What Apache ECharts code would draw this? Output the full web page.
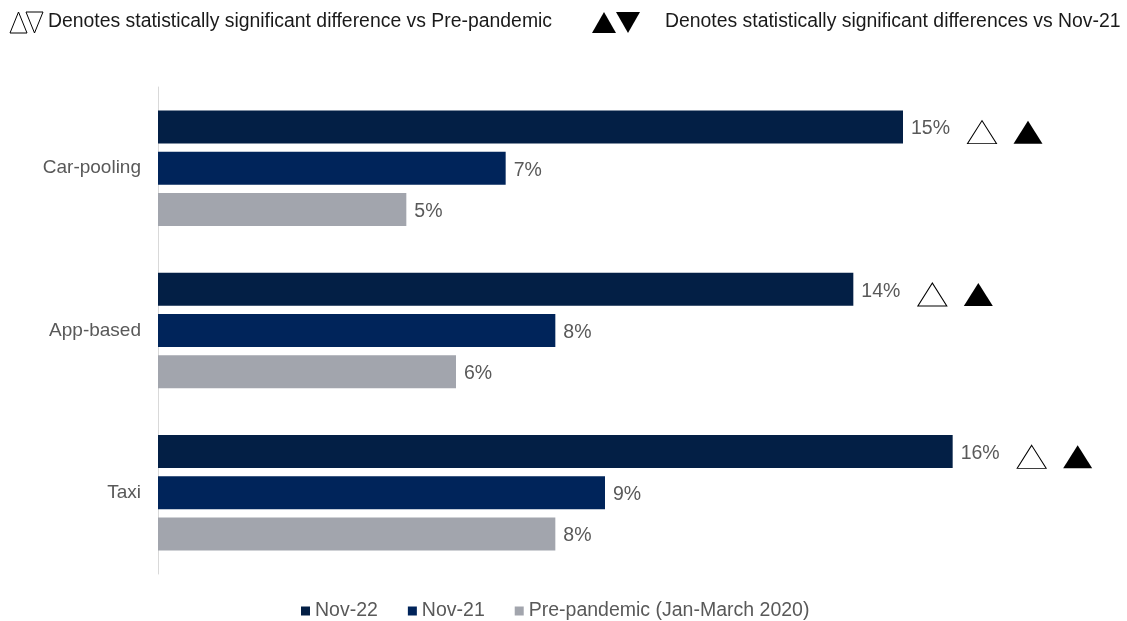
<!DOCTYPE html>
<html>
<head>
<meta charset="utf-8">
<script src="https://cdn.jsdelivr.net/npm/echarts@6/dist/echarts.min.js"></script>
<style>
  html, body { margin: 0; padding: 0; background: #fff; }
  #chart { width: 1127px; height: 621px; }
</style>
</head>
<body>
<div id="chart"></div>
<script>
// Share of respondents using each shared-mobility mode (%)
const categories = ['Car-pooling', 'App-based', 'Taxi'];
const seriesNames = ['Nov-22', 'Nov-21', 'Pre-pandemic (Jan-March 2020)'];
const nov22 = [15, 14, 16];
const nov21 = [7, 8, 9];
const prePandemic = [5, 6, 8];
// Significance flags for Nov-22 values
const sigVsPrePandemic = [true, true, true];
const sigVsNov21 = [true, true, true];

const colors = ['#031f45', '#00245a', '#a2a5ad'];
const labelColor = '#595959';
const font = 'Liberation Sans, Arial, sans-serif';

const chart = echarts.init(document.getElementById('chart'));

const barSeries = [nov22, nov21, prePandemic].map((vals, i) => ({
  name: seriesNames[i],
  type: 'bar',
  data: vals,
  barWidth: 33,
  barGap: '25%',
  itemStyle: { color: colors[i] },
  label: {
    show: true,
    position: 'right',
    distance: 8,
    offset: [0, 2],
    formatter: p => p.value + '%',
    color: labelColor,
    fontSize: 19.5,
    fontFamily: font
  }
}));

// Significance markers placed next to the Nov-22 bars
function markerSeries(flags, offsetX, filled) {
  return {
    type: 'scatter',
    data: nov22.map((v, i) => flags[i] ? [v, categories[i]] : null).filter(d => d),
    symbol: 'triangle',
    symbolSize: [29, 23],
    symbolOffset: [offsetX, -36],
    itemStyle: filled
      ? { color: '#000', opacity: 1 }
      : { color: '#fff', borderColor: '#000', borderWidth: 1, opacity: 1 },
    silent: true,
    z: 5
  };
}

function tri(x, y, w, h, up, filled) {
  const pts = up
    ? [[x, y + h], [x + w / 2, y], [x + w, y + h]]
    : [[x, y], [x + w, y], [x + w / 2, y + h]];
  return {
    type: 'polygon',
    shape: { points: pts },
    style: filled ? { fill: '#000' } : { fill: '#fff', stroke: '#000', lineWidth: 1 }
  };
}

function headerText(x, text) {
  return {
    type: 'text',
    style: {
      x: x, y: 21.5, text: text, fill: '#1a1a1a',
      font: '19.4px ' + font, textVerticalAlign: 'middle'
    }
  };
}

chart.setOption({
  animation: false,
  grid: { left: 158, right: 75, top: 87, bottom: 47, containLabel: false },
  xAxis: {
    type: 'value',
    min: 0,
    max: 18,
    show: false
  },
  yAxis: {
    type: 'category',
    data: categories,
    inverse: true,
    axisLine: { show: true, lineStyle: { color: '#d9d9d9', width: 1 } },
    axisTick: { show: false },
    axisLabel: { color: labelColor, fontSize: 19, fontFamily: font, margin: 17 },
    splitLine: { show: false }
  },
  legend: {
    data: seriesNames,
    top: 596,
    left: 296,
    icon: 'rect',
    itemWidth: 9,
    itemHeight: 9,
    itemGap: 30,
    textStyle: { color: labelColor, fontSize: 19.5, fontFamily: font }
  },
  graphic: [
    tri(10, 12, 17, 21, true, false),
    tri(26, 12, 17, 21, false, false),
    headerText(48, 'Denotes statistically significant difference vs Pre-pandemic'),
    tri(592, 12, 24, 21, true, true),
    tri(616, 12, 24, 21, false, true),
    headerText(665, 'Denotes statistically significant differences vs Nov-21')
  ],
  series: [
    ...barSeries,
    markerSeries(sigVsPrePandemic, 79, false),
    markerSeries(sigVsNov21, 125, true)
  ]
});
</script>
</body>
</html>
